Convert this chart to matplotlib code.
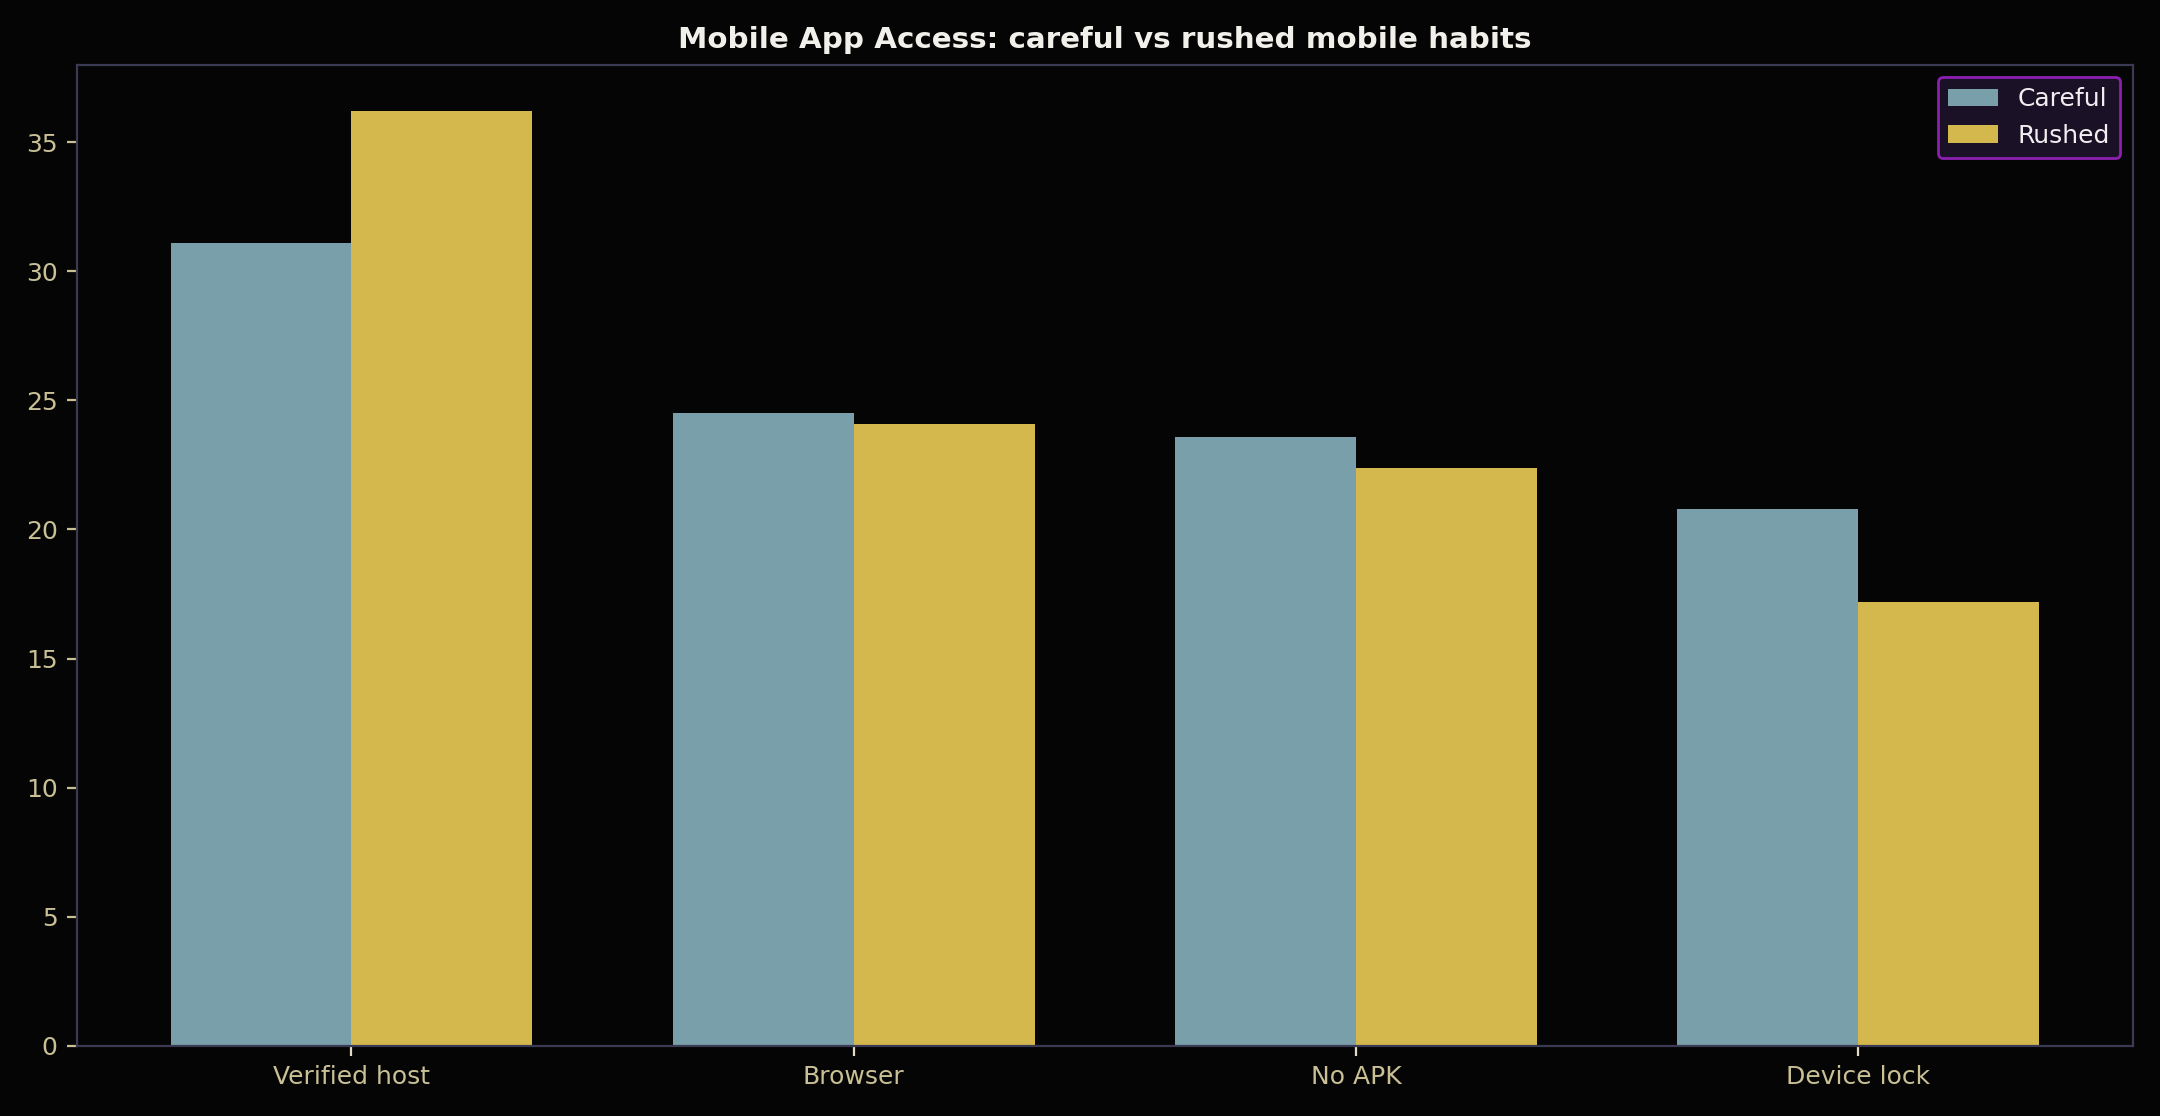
import matplotlib
matplotlib.use("Agg")
import matplotlib.pyplot as plt
import numpy as np

# Categories and series values
categories = ["Verified host", "Browser", "No APK", "Device lock"]
careful = [31.1, 24.5, 23.6, 20.8]
rushed = [36.2, 24.1, 22.4, 17.2]
series_names = ["Careful", "Rushed"]

BG = "#050505"
SPINE = "#3b3a55"
TICK_TXT = "#c9c096"

fig, ax = plt.subplots(figsize=(10.8, 5.58), dpi=200)
fig.patch.set_facecolor(BG)
ax.set_facecolor(BG)

x = np.arange(len(categories))
w = 0.36
ax.bar(x - w / 2, careful, w, color="#79a0aa", label=series_names[0])
ax.bar(x + w / 2, rushed, w, color="#d4b84e", label=series_names[1])

ax.set_xticks(x)
ax.set_xticklabels(categories)
ax.tick_params(axis="x", colors="#e0dcc8", labelcolor=TICK_TXT, labelsize=9)
ax.tick_params(axis="y", colors=TICK_TXT, labelcolor=TICK_TXT, labelsize=9)
for s in ax.spines.values():
    s.set_color(SPINE)

ax.set_title("Mobile App Access: careful vs rushed mobile habits",
             color="#f2f0ea", fontsize=10.6, fontweight="bold")

leg = ax.legend(loc="upper right", facecolor="#1a1126", edgecolor="#8c1fb0",
                fontsize=9, framealpha=1.0)
for t in leg.get_texts():
    t.set_color("#f0eef0")

fig.subplots_adjust(left=0.0357, right=0.9873, top=0.942, bottom=0.0631)
fig.savefig("out.png", dpi=200, facecolor=BG)
